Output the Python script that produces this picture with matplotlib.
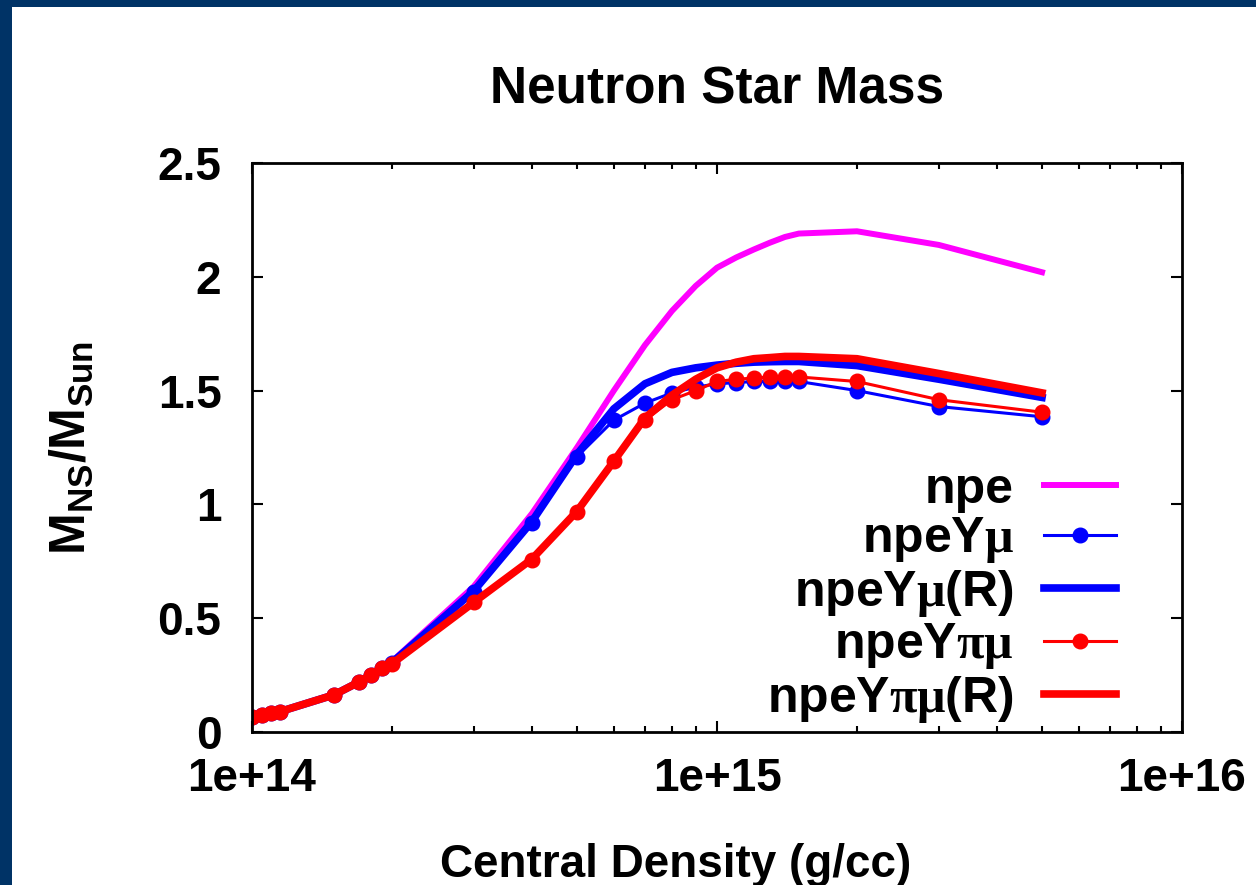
import math
import matplotlib
matplotlib.use("Agg")
import matplotlib.pyplot as plt
from matplotlib.patches import Rectangle
from matplotlib.ticker import LogLocator, MultipleLocator, NullFormatter, FuncFormatter

plt.rcParams['font.family'] = ['Liberation Sans', 'DejaVu Sans']
plt.rcParams['font.weight'] = 'bold'
plt.rcParams['mathtext.fontset'] = 'custom'
plt.rcParams['mathtext.rm'] = 'Liberation Serif'
plt.rcParams['mathtext.it'] = 'Liberation Serif:italic'
plt.rcParams['mathtext.bf'] = 'Liberation Sans:bold'

# central density (g/cc)
rho = [1.0e14, 1.05e14, 1.1e14, 1.15e14, 1.5e14, 1.7e14, 1.8e14, 1.9e14, 2e14,
       3e14, 4e14, 5e14, 6e14, 7e14, 8e14, 9e14, 1e15, 1.1e15, 1.2e15, 1.3e15,
       1.4e15, 1.5e15, 2e15, 3e15, 5e15]

# M_NS / M_Sun
m_npe = [0.065, 0.075, 0.082, 0.09, 0.165, 0.22, 0.25, 0.285, 0.31,
         0.64, 0.96, 1.25, 1.50, 1.70, 1.85, 1.96, 2.04, 2.085, 2.12, 2.15,
         2.175, 2.19, 2.20, 2.14, 2.02]
m_ymu = [0.065, 0.075, 0.082, 0.09, 0.163, 0.22, 0.25, 0.28, 0.305,
         0.615, 0.92, 1.21, 1.37, 1.445, 1.49, 1.515, 1.53, 1.535, 1.54, 1.54,
         1.54, 1.54, 1.50, 1.43, 1.385]
m_ymu_r = [0.065, 0.075, 0.082, 0.09, 0.163, 0.22, 0.25, 0.28, 0.305,
           0.62, 0.925, 1.22, 1.42, 1.53, 1.58, 1.60, 1.612, 1.62, 1.625, 1.627,
           1.628, 1.628, 1.61, 1.55, 1.47]
m_ypimu = [0.065, 0.075, 0.082, 0.09, 0.163, 0.22, 0.25, 0.28, 0.30,
           0.57, 0.755, 0.965, 1.19, 1.37, 1.46, 1.50, 1.54, 1.55, 1.555, 1.56,
           1.56, 1.56, 1.54, 1.46, 1.405]
m_ypimu_r = [0.065, 0.075, 0.082, 0.09, 0.163, 0.22, 0.25, 0.28, 0.30,
             0.57, 0.76, 0.97, 1.19, 1.38, 1.48, 1.55, 1.60, 1.625, 1.64, 1.645,
             1.65, 1.65, 1.64, 1.575, 1.49]

fig = plt.figure(figsize=(12.56, 8.85), dpi=100, facecolor='#003366')
fig.patches.append(Rectangle((12 / 1256, 0), 1, 878 / 885, transform=fig.transFigure,
                             facecolor='white', edgecolor='none', zorder=-10))
ax = fig.add_axes([252 / 1256, 153 / 885, 930 / 1256, 569 / 885])

ax.plot(rho, m_npe, color='#ff00ff', lw=4.3, label='npe')
ax.plot(rho, m_ymu, color='#0000ff', lw=2.2, marker='o', ms=10.5, label=r'npeY$\mathrm{\mu}$')
ax.plot(rho, m_ymu_r, color='#0000ff', lw=5.5, label=r'npeY$\mathrm{\mu}$(R)')
ax.plot(rho, m_ypimu, color='#ff0000', lw=2.2, marker='o', ms=10.5, label=r'npeY$\mathrm{\pi\mu}$')
ax.plot(rho, m_ypimu_r, color='#ff0000', lw=5.5, label=r'npeY$\mathrm{\pi\mu}$(R)')

ax.set_xscale('log')
ax.set_xlim(1e14, 1e16)
ax.set_ylim(0, 2.5)
ax.xaxis.set_major_locator(LogLocator(base=10, numticks=5))
ax.xaxis.set_minor_locator(LogLocator(base=10, subs=range(2, 10), numticks=20))
ax.xaxis.set_minor_formatter(NullFormatter())
ax.xaxis.set_major_formatter(FuncFormatter(lambda v, p: '1e+%d' % round(math.log10(v))))
ax.yaxis.set_major_locator(MultipleLocator(0.5))
ax.yaxis.set_major_formatter(FuncFormatter(lambda v, p: ('%g' % v)))

ax.tick_params(which='both', direction='in', top=True, right=True, width=1.5, labelsize=33)
ax.tick_params(which='major', length=8)
ax.tick_params(which='minor', length=4)
ax.tick_params(axis='x', pad=18)
ax.tick_params(axis='y', pad=22)
for s in ax.spines.values():
    s.set_linewidth(2)

ax.set_title('Neutron Star Mass', fontsize=37, fontweight='bold', pad=43)
ax.set_xlabel('Central Density (g/cc)', fontsize=33, fontweight='bold')
ax.xaxis.set_label_coords(0.456, -0.195)
ax.set_ylabel(r'$\mathbf{M_{NS}/M_{Sun}}$', fontsize=36)
ax.yaxis.set_label_coords(-0.168, 0.5)

ax.legend(loc='lower right', markerfirst=False, frameon=False, fontsize=36,
          handlelength=1.45, handletextpad=0.6, labelspacing=0.05,
          borderaxespad=0.0, bbox_to_anchor=(0.951, -0.022))

fig.savefig('out.png', dpi=100, facecolor=fig.get_facecolor())
